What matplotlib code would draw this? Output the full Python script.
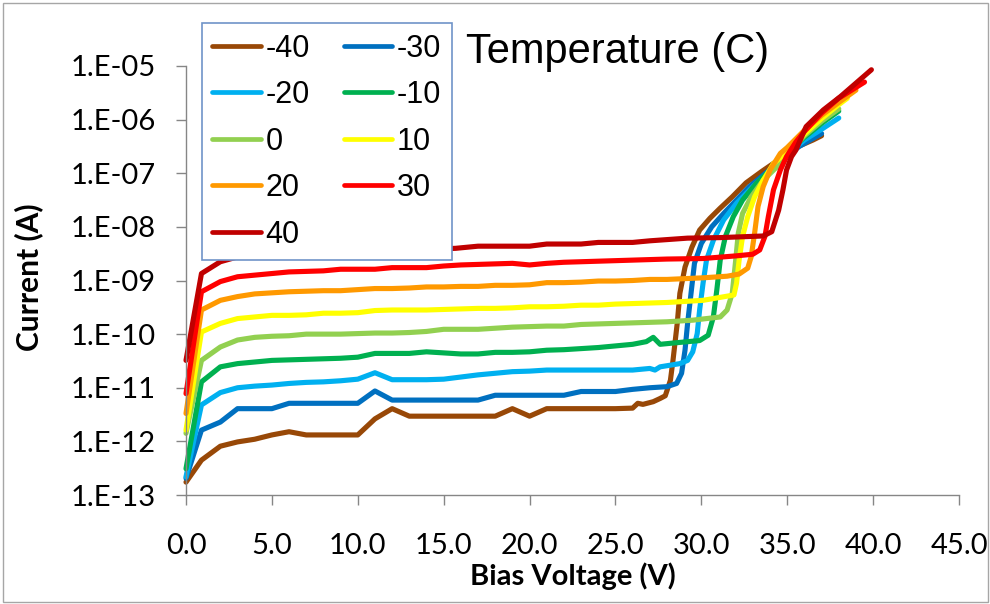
import numpy as np
import matplotlib
matplotlib.use("Agg")
import matplotlib.pyplot as plt
from matplotlib.patches import Rectangle
from matplotlib.lines import Line2D

# ---------------- data ----------------
temps = ["-40", "-30", "-20", "-10", "0", "10", "20", "30", "40"]
colors = ["#984807", "#0070C0", "#00B0F0", "#00B050", "#92D050",
          "#FFFF00", "#FF9900", "#FF0000", "#C00000"]

v_m40 = [0, 0.9, 2, 3, 4, 5, 6, 7, 8, 9, 10, 11, 12, 13, 14, 15, 16, 17, 18, 19, 20, 21,
         22, 23, 24, 25, 26, 26.3, 26.6, 27.2, 27.6, 27.9, 28.2, 28.35, 28.6, 28.75, 29.05,
         29.45, 29.9, 30.5, 31.1, 31.8, 32.6, 33.5, 34.5, 35.5, 36.5, 37]
logi_m40 = [-12.76, -12.35, -12.09, -12.01, -11.96, -11.88, -11.82, -11.88, -11.88, -11.88,
            -11.88, -11.58, -11.39, -11.53, -11.53, -11.53, -11.53, -11.53, -11.53, -11.39,
            -11.53, -11.39, -11.39, -11.39, -11.39, -11.39, -11.38, -11.29, -11.31, -11.26,
            -11.20, -11.15, -10.86, -10.49, -9.79, -9.24, -8.75, -8.38, -8.06, -7.84, -7.65,
            -7.44, -7.18, -6.97, -6.75, -6.52, -6.38, -6.30]

v_m30 = [0, 0.9, 2, 3, 4, 5, 6, 7, 8, 9, 10, 11, 12, 13, 14, 15, 16, 17, 18, 19, 20, 21,
         22, 23, 24, 25, 26, 27, 28, 28.56, 28.85, 29.05, 29.2, 29.4, 29.6, 30.0, 30.6, 31.3,
         32.05, 32.8, 34, 35, 35.7, 36.5, 37]
logi_m30 = [-12.69, -11.79, -11.64, -11.39, -11.39, -11.39, -11.29, -11.29, -11.29, -11.29,
            -11.29, -11.06, -11.23, -11.23, -11.23, -11.23, -11.23, -11.23, -11.14, -11.14,
            -11.14, -11.14, -11.14, -11.07, -11.07, -11.07, -11.03, -11.00, -10.98, -10.92,
            -10.73, -10.30, -9.80, -9.24, -8.68, -8.31, -8.00, -7.75, -7.50, -7.25, -6.93,
            -6.68, -6.50, -6.35, -6.26]

v_m20 = [0, 0.9, 2, 3, 4, 5, 6, 7, 8, 9, 10, 11, 12, 13, 14, 15, 16, 17, 18, 19, 20, 21,
         22, 23, 24, 25, 26, 27, 27.3, 27.6, 28.75, 29.2, 29.5, 29.76, 29.9, 30.1, 30.3, 30.7,
         31.3, 32.05, 33.0, 34, 35, 36, 37, 38]
logi_m20 = [-12.66, -11.32, -11.09, -11.00, -10.97, -10.95, -10.92, -10.90, -10.89, -10.87,
            -10.84, -10.72, -10.85, -10.85, -10.85, -10.84, -10.80, -10.76, -10.73, -10.70,
            -10.69, -10.67, -10.67, -10.67, -10.67, -10.67, -10.67, -10.64, -10.67, -10.61,
            -10.55, -10.49, -10.33, -9.99, -9.55, -9.05, -8.62, -8.25, -7.87, -7.56, -7.25,
            -6.95, -6.65, -6.38, -6.18, -5.97]

v_m10 = [0, 0.9, 2, 3, 4, 5, 6, 7, 8, 9, 10, 11, 12, 13, 14, 15, 16, 17, 18, 19, 20, 21,
         22, 23, 24, 25, 26, 26.8, 27.2, 27.6, 28.56, 29.9, 30.4, 30.7, 30.9, 31.1, 31.4,
         31.86, 32.4, 33.2, 34, 35, 36, 37, 38]
logi_m10 = [-12.51, -10.89, -10.61, -10.55, -10.52, -10.49, -10.48, -10.47, -10.46, -10.45,
            -10.43, -10.36, -10.36, -10.36, -10.33, -10.35, -10.37, -10.37, -10.34, -10.34,
            -10.33, -10.30, -10.29, -10.27, -10.25, -10.22, -10.19, -10.14, -10.06, -10.19,
            -10.16, -10.12, -10.02, -9.68, -9.18, -8.62, -8.18, -7.81, -7.50, -7.19, -6.95,
            -6.62, -6.33, -6.07, -5.84]

v_0 = [0, 0.9, 2, 3, 4, 5, 6, 7, 8, 9, 10, 11, 12, 13, 14, 15, 16, 17, 18, 19, 20, 21,
       22, 23, 24, 25, 26, 27, 28, 29.5, 31.1, 31.5, 31.8, 32.0, 32.15, 32.4, 32.9, 33.6,
       34.5, 35, 36, 37, 38]
logi_0 = [-11.85, -10.49, -10.24, -10.11, -10.06, -10.04, -10.03, -10.00, -10.00, -10.00,
          -9.99, -9.98, -9.98, -9.97, -9.95, -9.91, -9.91, -9.91, -9.89, -9.87, -9.86, -9.85,
          -9.85, -9.82, -9.81, -9.80, -9.79, -9.78, -9.77, -9.74, -9.68, -9.55, -9.24, -8.62,
          -8.12, -7.75, -7.44, -7.13, -6.85, -6.65, -6.30, -6.03, -5.80]

v_10 = [0, 0.9, 2, 3, 4, 5, 6, 7, 8, 9, 10, 11, 12, 13, 14, 15, 16, 17, 18, 19, 20, 21,
        22, 23, 24, 25, 26, 27, 28, 30.1, 31.9, 32.05, 32.2, 32.4, 32.7, 33.1, 33.6, 34.2,
        35, 36, 37, 38, 38.5]
logi_10 = [-11.79, -9.96, -9.80, -9.71, -9.68, -9.65, -9.65, -9.64, -9.61, -9.61, -9.60,
           -9.56, -9.55, -9.55, -9.55, -9.54, -9.53, -9.52, -9.52, -9.51, -9.49, -9.49,
           -9.48, -9.46, -9.46, -9.44, -9.43, -9.42, -9.41, -9.37, -9.27, -9.05, -8.62,
           -8.18, -7.81, -7.44, -7.13, -6.82, -6.60, -6.27, -5.98, -5.72, -5.60]

v_20 = [0, 0.9, 2, 3, 4, 5, 6, 7, 8, 9, 10, 11, 12, 13, 14, 15, 16, 17, 18, 19, 20, 21,
        22, 23, 24, 25, 26, 27, 28, 30.1, 31.5, 32.2, 32.7, 32.9, 33.1, 33.3, 33.6, 34.0,
        34.6, 35, 36, 37, 38, 39]
logi_20 = [-11.48, -9.55, -9.37, -9.30, -9.25, -9.23, -9.21, -9.20, -9.19, -9.19, -9.17,
           -9.15, -9.15, -9.14, -9.12, -9.12, -9.11, -9.11, -9.09, -9.09, -9.08, -9.04,
           -9.04, -9.03, -9.01, -9.01, -9.00, -8.98, -8.98, -8.95, -8.92, -8.88, -8.77,
           -8.56, -8.12, -7.62, -7.25, -6.94, -6.63, -6.52, -6.20, -5.92, -5.68, -5.45]

v_30 = [0, 0.9, 2, 3, 4, 5, 6, 7, 8, 9, 10, 11, 12, 13, 14, 15, 16, 17, 18, 19, 20, 21,
        22, 23, 24, 25, 26, 27, 28, 30.1, 32.05, 33.0, 33.4, 33.7, 33.9, 34.2, 34.6, 34.96,
        35.5, 36, 37, 38, 39, 39.5]
logi_30 = [-11.11, -9.21, -9.02, -8.93, -8.90, -8.87, -8.84, -8.83, -8.82, -8.79, -8.79,
           -8.79, -8.76, -8.76, -8.76, -8.73, -8.71, -8.70, -8.69, -8.68, -8.71, -8.68,
           -8.66, -8.65, -8.64, -8.63, -8.62, -8.61, -8.60, -8.59, -8.54, -8.51, -8.43,
           -8.18, -7.81, -7.31, -6.94, -6.69, -6.42, -6.22, -5.88, -5.60, -5.40, -5.30]

v_40 = [0, 0.9, 2, 3, 4, 5, 6, 8, 10, 12, 14, 15.7, 17, 20, 21, 23, 24, 26, 27, 29.2, 31.1,
        33.6, 34.1, 34.5, 34.75, 34.96, 35.25, 35.5, 36.1, 37.1, 38.1, 39, 39.9]
logi_40 = [-10.49, -8.87, -8.65, -8.56, -8.52, -8.49, -8.47, -8.46, -8.45, -8.43, -8.42,
           -8.40, -8.36, -8.36, -8.32, -8.32, -8.29, -8.29, -8.26, -8.21, -8.20, -8.17,
           -8.09, -7.69, -7.31, -6.94, -6.69, -6.57, -6.13, -5.82, -5.57, -5.32, -5.07]

voltages = [v_m40, v_m30, v_m20, v_m10, v_0, v_10, v_20, v_30, v_40]
log_currents = [logi_m40, logi_m30, logi_m20, logi_m10, logi_0, logi_10, logi_20, logi_30, logi_40]

x_ticks = [0, 5, 10, 15, 20, 25, 30, 35, 40, 45]
y_ticks = [1e-13, 1e-12, 1e-11, 1e-10, 1e-9, 1e-8, 1e-7, 1e-6, 1e-5]
y_ticklabels = ["1.E-13", "1.E-12", "1.E-11", "1.E-10", "1.E-09",
                "1.E-08", "1.E-07", "1.E-06", "1.E-05"]

# ---------------- figure ----------------
W, H = 990, 604
fig = plt.figure(figsize=(W / 100, H / 100), dpi=100)
fig.patch.set_facecolor("white")

ax = fig.add_axes([186 / W, 1 - 495 / H, (959 - 186) / W, (495 - 66) / H])
ax.set_yscale("log")

for v, li, c, t in zip(voltages, log_currents, colors, temps):
    ax.plot(v, 10 ** np.array(li), color=c, lw=3.7, solid_capstyle="round",
            solid_joinstyle="round", label=t, clip_on=False)

ax.set_xlim(0, 45)
ax.set_ylim(1e-13, 1e-5)
ax.set_xticks(x_ticks)
ax.set_xticklabels([f"{x:.1f}" for x in x_ticks])
ax.set_yticks(y_ticks)
ax.set_yticklabels(y_ticklabels)
ax.yaxis.set_minor_locator(matplotlib.ticker.NullLocator())

axis_gray = "#868686"
for side in ["top", "right"]:
    ax.spines[side].set_visible(False)
for side in ["left", "bottom"]:
    ax.spines[side].set_color(axis_gray)
    ax.spines[side].set_linewidth(1.0)

ax.tick_params(axis="both", which="major", direction="out", length=7.5, width=1.0,
               color=axis_gray, labelcolor="black")
ax.tick_params(axis="y", pad=14)
ax.tick_params(axis="x", pad=20)
for lab in ax.get_xticklabels() + ax.get_yticklabels():
    lab.set_fontfamily("Lato")
    lab.set_fontsize(21)

# axis titles
fig.text(29 / W, 1 - 277 / H, "Current (A)", rotation=90, ha="center", va="center",
         fontfamily="Lato", fontweight="bold", fontsize=21.5)
fig.text(572.5 / W, 1 - 585 / H, "Bias Voltage (V)", ha="center", va="baseline",
         fontfamily="Lato", fontweight="bold", fontsize=21)

# legend title text
fig.text(466 / W, 1 - 63 / H, "Temperature (C)", ha="left", va="baseline",
         fontfamily="Liberation Sans", fontsize=30)

# legend: 2 columns, row-major order as in the reference
order = [0, 2, 4, 6, 8, 1, 3, 5, 7]
handles = [Line2D([], [], color=colors[i], lw=3.4, solid_capstyle="round") for i in order]
labels = [temps[i] for i in order]
leg = fig.legend(handles, labels, loc="upper left",
                 bbox_to_anchor=(201.7 / W, 1 - 23.3 / H), bbox_transform=fig.transFigure,
                 ncol=2, frameon=True, fancybox=False, borderaxespad=0,
                 prop={"family": "Liberation Sans", "size": 22},
                 handlelength=1.6, handletextpad=0.15, columnspacing=1.1,
                 labelspacing=0.54, borderpad=0.34)
leg.get_frame().set_edgecolor("#6F94C8")
leg.get_frame().set_linewidth(1.2)
leg.get_frame().set_facecolor("white")
leg.get_frame().set_alpha(1)
leg.set_zorder(10)

# chart-area border
fig.patches.append(Rectangle((2.5 / W, 2.5 / H), 1 - 5 / W, 1 - 5 / H,
                             transform=fig.transFigure, fill=False,
                             edgecolor="#A6A6A6", linewidth=1.0))

fig.savefig("out.png", dpi=100, facecolor="white")
